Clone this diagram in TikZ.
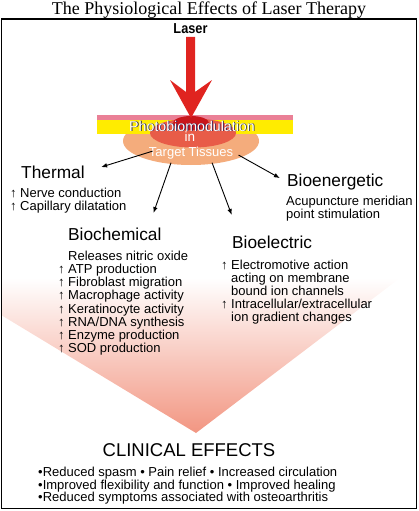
\documentclass[tikz,border=0pt]{standalone}
\usepackage{fontspec}
\setmainfont{Liberation Sans}
\newfontfamily\titlefont{Liberation Serif}
\usetikzlibrary{shapes.geometric}
\usetikzlibrary{arrows.meta}

\definecolor{laserred}{RGB}{224,36,32}
\definecolor{coredark}{RGB}{200,22,28}
\definecolor{glowred}{RGB}{232,92,72}
\definecolor{tissueorange}{RGB}{244,172,124}
\definecolor{bandpink}{RGB}{234,128,150}
\definecolor{bandyellow}{RGB}{255,236,0}
\definecolor{shadownavy}{RGB}{30,30,90}
\definecolor{effectpink}{RGB}{242,150,130}

\newcommand\upmark{\makebox[10pt][l]{↑}}
\newcommand\nomark{\makebox[10pt]{}}

\tikzset{
  head/.style={font=\fontsize{17.3}{18}\selectfont, inner sep=1pt, anchor=base west},
  list/.style={font=\fontsize{13}{13.2}\selectfont, inner sep=0pt, anchor=base west, align=left},
  effect/.style={line width=0.9pt, -{Latex[length=6pt,width=4.6pt]}},
  tissuetext/.style={text=white, inner sep=1pt, anchor=base},
}

\begin{document}
\begin{tikzpicture}[x=1pt,y=-1pt]
  \useasboundingbox (0,0) rectangle (418,511);
  % clinical effects funnel
  \begin{scope}
    \clip (2,20) rectangle (416,508);
    \shade[top color=white, bottom color=effectpink] (-60,278) -- (400,278) -- (196,433) -- cycle;
  \end{scope}
  \draw[line width=1.4pt] (1.5,19) rectangle (416.5,508.3);
  \node[anchor=base, inner sep=0pt, font=\titlefont\fontsize{18}{20}\selectfont] (title) at (209,15)
    {The Physiological Effects of Laser Therapy};
  % laser beam and tissue
  \node[ellipse, fill=tissueorange, minimum width=136pt, minimum height=48pt, inner sep=0pt] (tissue) at (191,141) {};
  \fill[bandpink] (97,115) rectangle (293,120);
  \fill[bandyellow] (97,120) rectangle (293,134);
  \node[ellipse, fill=glowred, minimum width=86pt, minimum height=29pt, inner sep=0pt] (glow) at (193,133) {};
  \node[ellipse, fill=coredark, minimum width=36pt, minimum height=14pt, inner sep=0pt] (core) at (191,123) {};
  \fill[laserred] (186,37) -- (195,37) -- (195,92) -- (212,80) -- (191,118) -- (170,80) -- (186,92) -- cycle;
  \node[anchor=base, inner sep=0pt, xscale=0.885, font=\bfseries\fontsize{14.4}{15}\selectfont] (laser) at (190.5,33.3) {Laser};
  \node[tissuetext, text=shadownavy, font=\fontsize{14.2}{15}\selectfont] (photoshadow) at (192.8,131.9) {Photobiomodulation};
  \node[tissuetext, font=\fontsize{14.2}{15}\selectfont] (photo) at (192,131) {Photobiomodulation};
  \node[tissuetext, font=\fontsize{13.5}{14}\selectfont] (in) at (190,141.5) {in};
  \node[tissuetext, font=\fontsize{13}{14}\selectfont] (target) at (191,156) {Target Tissues};
  % the four kinds of effect (lists sit on the baseline of their last line)
  \node[head] (thermal) at (20,178) {Thermal};
  \node[list, font=\fontsize{13}{13}\selectfont] (thermlist) at (10,210.5)
    {\upmark Nerve conduction\\ \upmark Capillary dilatation};
  \node[head] (bioen) at (286,186) {Bioenergetic};
  \node[list, font=\fontsize{13}{12.7}\selectfont] (bioenlist) at (286,218)
    {Acupuncture meridian\\ point stimulation};
  \node[head] (biochem) at (67,240) {Biochemical};
  \node[list] (biochemlist) at (58,352.7)
    {\nomark Releases nitric oxide\\ \upmark ATP production\\ \upmark Fibroblast migration\\
     \upmark Macrophage activity\\ \upmark Keratinocyte activity\\ \upmark RNA/DNA synthesis\\
     \upmark Enzyme production\\ \upmark SOD production};
  \node[head] (bioel) at (231,248.3) {Bioelectric};
  \node[list, font=\fontsize{13}{13.1}\selectfont] (bioellist) at (221,321.7)
    {\upmark Electromotive action\\ \nomark acting on membrane\\ \nomark bound ion channels\\
     \upmark Intracellular/extracellular\\ \nomark ion gradient changes};
  \draw[effect, shorten <=-5pt, shorten >=16pt] (target.west) -- (thermal.east);
  \draw[effect, shorten <=5pt, shorten >=7pt] (target.east) -- (bioen.west);
  \draw[effect, shorten <=3pt, shorten >=14pt] ([xshift=-19pt]target.south) -- ([xshift=34pt]biochem.north);
  \draw[effect, shorten <=3pt, shorten >=21pt] ([xshift=20pt]target.south) -- ([xshift=-33pt]bioel.north);
  % clinical effects
  \node[anchor=base, inner sep=0pt, font=\fontsize{18.5}{20}\selectfont] (clinical) at (189,456.7) {CLINICAL EFFECTS};
  \node[list, font=\fontsize{13}{12.5}\selectfont] (clinlist) at (38,501.7)
    {•Reduced spasm • Pain relief • Increased circulation\\
     •Improved flexibility and function • Improved healing\\
     •Reduced symptoms associated with osteoarthritis};
\end{tikzpicture}
\end{document}
